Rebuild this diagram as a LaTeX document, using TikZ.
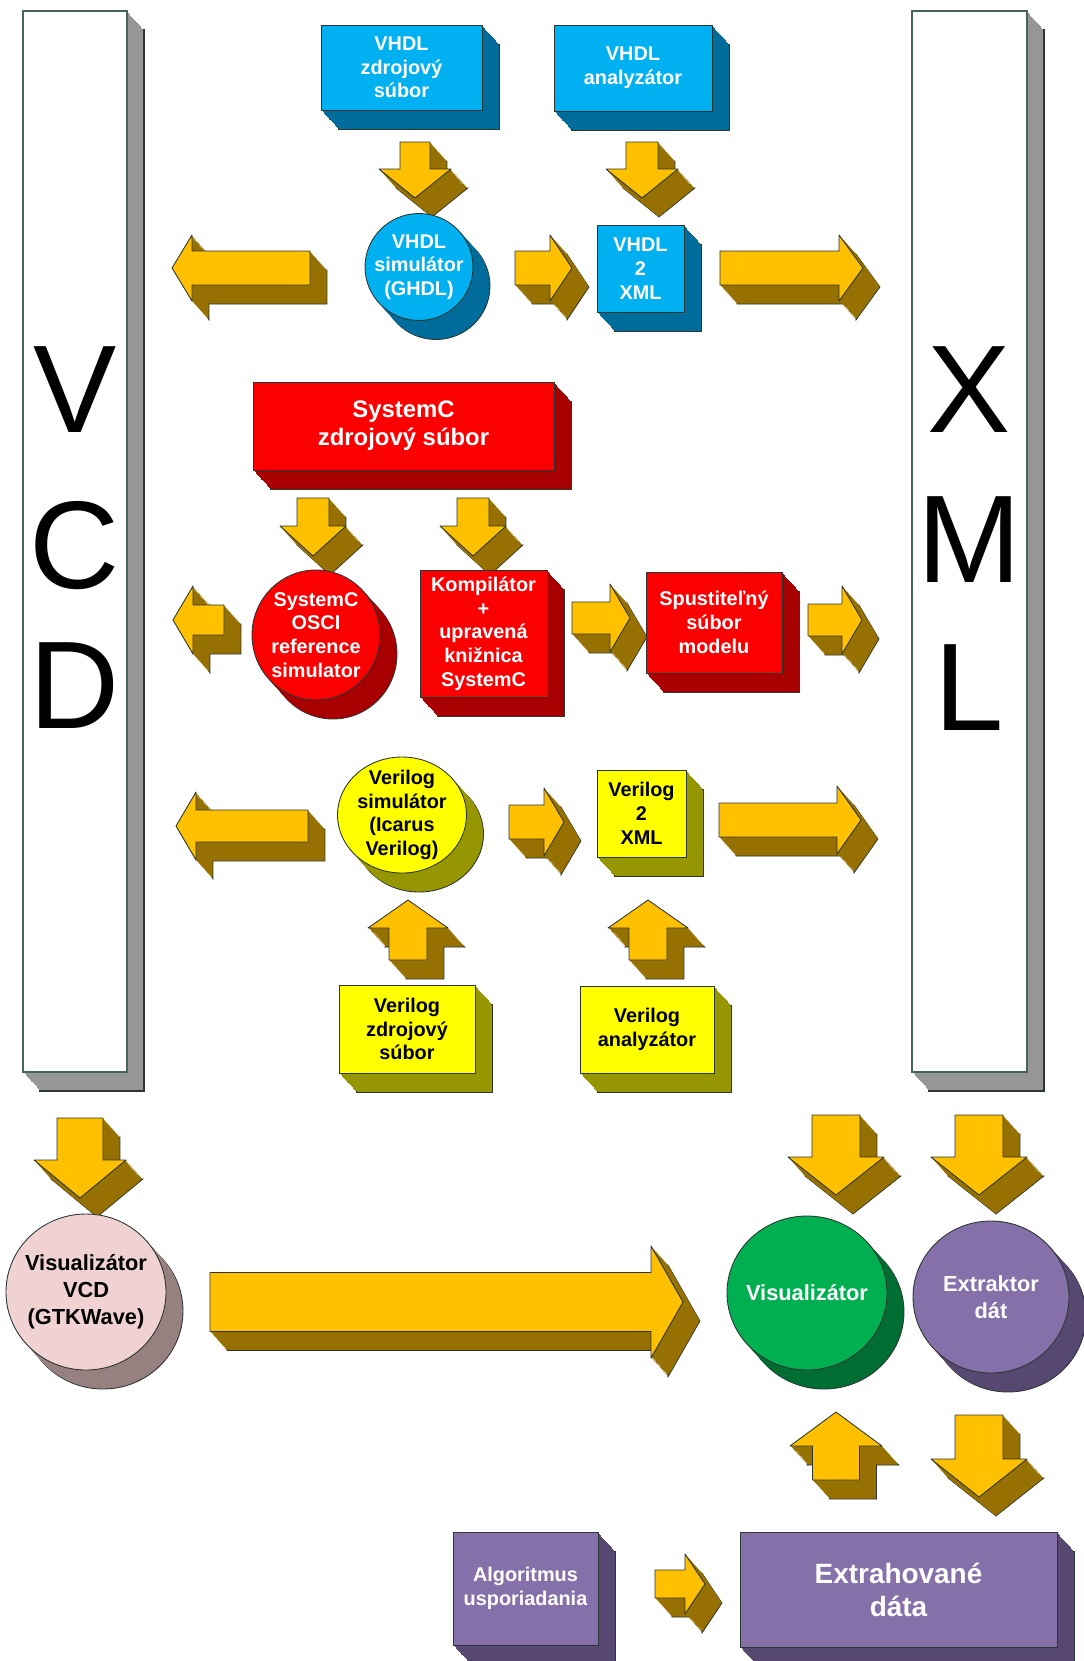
\documentclass[tikz,border=0pt]{standalone}
\usepackage{fontspec}
\setmainfont{Liberation Sans}
\usetikzlibrary{calc,shapes.geometric,positioning}
\newlength\pxu
\setlength\pxu{0.02cm}
\newcommand\lbl{\fontsize{11.3}{13.5}\selectfont\bfseries}
\newcommand\lblbig{\fontsize{13.6}{16}\selectfont\bfseries}
\newcommand\lblmid{\fontsize{12.4}{15.4}\selectfont\bfseries}
\newcommand\lblext{\fontsize{15.9}{18.8}\selectfont\bfseries}
\definecolor{vhdlface}{RGB}{0,176,240}
\definecolor{vhdlside}{RGB}{0,108,156}
\definecolor{scface}{RGB}{250,0,0}
\definecolor{scside}{RGB}{168,0,0}
\definecolor{verface}{RGB}{255,255,0}
\definecolor{verside}{RGB}{150,150,0}
\definecolor{arrface}{RGB}{255,192,0}
\definecolor{arrside}{RGB}{150,112,0}
\definecolor{barside}{RGB}{150,150,150}
\definecolor{baredge}{RGB}{70,100,90}
\definecolor{gtkface}{RGB}{240,210,210}
\definecolor{gtkside}{RGB}{150,128,128}
\definecolor{visface}{RGB}{0,176,80}
\definecolor{visside}{RGB}{0,110,50}
\definecolor{extface}{RGB}{134,112,170}
\definecolor{extside}{RGB}{86,72,112}
\definecolor{edge}{RGB}{45,55,50}
\tikzset{
    extlayer/.style 2 args={preaction={fill=#2,
        transform canvas={shift={(#1*0.4835pt,-#1*0.5405pt)}}}},
    extrude/.style={
        preaction={fill=#1, draw=edge, transform canvas={shift={(9.67pt,-10.81pt)}}},
        extlayer={19}{#1}, extlayer={18}{#1}, extlayer={17}{#1}, extlayer={16}{#1},
        extlayer={15}{#1}, extlayer={14}{#1}, extlayer={13}{#1}, extlayer={12}{#1},
        extlayer={11}{#1}, extlayer={10}{#1}, extlayer={9}{#1}, extlayer={8}{#1},
        extlayer={7}{#1}, extlayer={6}{#1}, extlayer={5}{#1}, extlayer={4}{#1},
        extlayer={3}{#1}, extlayer={2}{#1}, extlayer={1}{#1}},
    box/.style 2 args={rectangle, draw=edge, line width=0.5pt, inner sep=0pt,
        align=center, font=\lbl, minimum width=#1\pxu, minimum height=#2\pxu},
    cyl/.style 2 args={ellipse, draw=edge, line width=0.5pt, inner sep=-40pt,
        align=center, font=\lbl, minimum width=#1\pxu, minimum height=#2\pxu},
    bar/.style 2 args={rectangle, draw=baredge, line width=0.7pt, fill=white,
        extrude=barside, minimum width=#1\pxu, minimum height=#2\pxu},
    bigletter/.style={inner sep=0pt, font=\fontsize{71}{71}\selectfont},
    vhdl/.style={fill=vhdlface, text=white, extrude=vhdlside},
    sysc/.style={fill=scface, text=white, extrude=scside},
    veri/.style={fill=verface, text=black, extrude=verside},
    gtkw/.style={fill=gtkface, text=black, extrude=gtkside},
    visu/.style={fill=visface, text=white, extrude=visside},
    extr/.style={fill=extface, text=white, extrude=extside},
    blk/.style={fill=arrface, draw=edge, line width=0.5pt, line join=round, extrude=arrside},
    pics/arrowR/.style args={#1/#2/#3/#4}{code={
        \filldraw[blk] (0,-#2) -- ({#1-#4},-#2) -- ({#1-#4},-#3) -- (#1,0)
            -- ({#1-#4},#3) -- ({#1-#4},#2) -- (0,#2) -- cycle;
    }},
    pics/arrowL/.style args={#1/#2/#3/#4}{code={
        \filldraw[blk] (0,-#2) -- ({-(#1-#4)},-#2) -- ({-(#1-#4)},-#3) -- (-#1,0)
            -- ({-(#1-#4)},#3) -- ({-(#1-#4)},#2) -- (0,#2) -- cycle;
    }},
    pics/arrowD/.style args={#1/#2/#3/#4}{code={
        \filldraw[blk] (-#2,0) -- (-#2,{#1-#4}) -- (-#3,{#1-#4}) -- (0,#1)
            -- (#3,{#1-#4}) -- (#2,{#1-#4}) -- (#2,0) -- cycle;
    }},
    pics/arrowU/.style args={#1/#2/#3/#4}{code={
        \filldraw[blk] (-#2,0) -- (-#2,{-(#1-#4)}) -- (-#3,{-(#1-#4)}) -- (0,-#1)
            -- (#3,{-(#1-#4)}) -- (#2,{-(#1-#4)}) -- (#2,0) -- cycle;
    }},
}
\begin{document}
\begin{tikzpicture}[x=0.02cm, y=-0.02cm]
    \path[use as bounding box, fill=white] (0,0) rectangle (1083,1661);
    % VCD and XML columns
    \node[bar={104}{1061}] (vcdbar) at (75,541.5) {};
    \node[bar={115}{1061}] (xmlbar) at (969.5,541.5) {};
    \node[bigletter] (lv) at (75,390) {V};
    \node[bigletter] (lc) at (75,546) {C};
    \node[bigletter] (ld) at (75,686) {D};
    \node[bigletter] (lx) at (969.5,390) {X};
    \node[bigletter] (lm) at (969.5,540) {M};
    \node[bigletter] (ll) at (969.5,688) {L};
    % block arrows
    \pic at (415,142) {arrowD=56/15/36/29};
    \pic at (642,142) {arrowD=56/16/36/29};
    \pic at (310,268) {arrowL=138/17/33/20};
    \pic at (515,268) {arrowR=57/17/33/22};
    \pic at (720,268) {arrowR=143/17/33/24};
    \pic at (313,498) {arrowD=58/16/33/30};
    \pic at (473,498) {arrowD=58/16/33/30};
    \pic at (224,620) {arrowL=51/15/34/20};
    \pic at (572,618) {arrowR=58/16/34/20};
    \pic at (808,620) {arrowR=54/16/34/20};
    \pic at (308,826) {arrowL=132/16/34/20};
    \pic at (509,822) {arrowR=55/17/34/20};
    \pic at (719,820) {arrowR=142/17/34/24};
    \pic at (408,960) {arrowU=60/19/40/28};
    \pic at (648,960) {arrowU=60/19/40/28};
    \pic at (80,1118) {arrowD=80/23/46/38};
    \pic at (836,1115) {arrowD=80/24/48/38};
    \pic at (979,1115) {arrowD=80/24/48/38};
    \pic at (210,1302) {arrowR=473/29.5/56/32};
    \pic at (836,1480) {arrowU=68/23.5/46/34};
    \pic at (979,1415) {arrowD=82/24/48/38};
    \pic at (655,1584) {arrowR=50/14/30/20};
    % VHDL
    \node[box={161}{85}, vhdl] (vsrc) at (401.5,67.5) {VHDL\\zdrojový\\súbor};
    \node[box={158}{86}, vhdl] (vana) at (633,68) {VHDL\\analyzátor};
    \node[cyl={108}{107}, vhdl] (vsim) at (419,267) {VHDL\\simulátor\\(GHDL)};
    \node[box={87}{87}, vhdl] (v2x) at (640.5,268.5) {VHDL\\2\\XML};
    % SystemC
    \node[box={301}{88}, sysc, font=\lblbig] (scsrc) at (403.5,426) {SystemC\\zdrojový súbor};
    \node[cyl={128}{130}, sysc] (osci) at (316,635) {SystemC\\OSCI\\reference\\simulator};
    \node[box={127}{127}, sysc] (komp) at (483.5,633.5) {Kompilátor\\+\\upravená\\knižnica\\SystemC};
    \node[box={136}{101}, sysc] (spust) at (714,622.5) {Spustiteľný\\súbor\\modelu};
    % Verilog
    \node[cyl={129}{116}, veri] (versim) at (402,815) {Verilog\\simulátor\\(Icarus\\Verilog)};
    \node[box={89}{87}, veri] (ver2x) at (641.5,813.5) {Verilog\\2\\XML};
    \node[box={136}{88}, veri] (versrc) at (407,1029) {Verilog\\zdrojový\\súbor};
    \node[box={134}{87}, veri] (verana) at (647,1029.5) {Verilog\\analyzátor};
    % visualisation and extraction
    \node[cyl={160}{156}, gtkw, font=\lblmid] (gtk) at (86,1292) {Visualizátor\\VCD\\(GTKWave)};
    \node[cyl={160}{154}, visu, font=\lblmid] (vis) at (807,1293) {Visualizátor};
    \node[cyl={156}{152}, extr, font=\lblmid] (extr) at (991,1297) {Extraktor\\dát};
    \node[box={145}{113}, extr] (algo) at (525.5,1588.5) {Algoritmus\\usporiadania};
    \node[box={317}{115}, extr, font=\lblext] (extdata) at (898.5,1589.5) {Extrahované\\dáta};
\end{tikzpicture}
\end{document}
